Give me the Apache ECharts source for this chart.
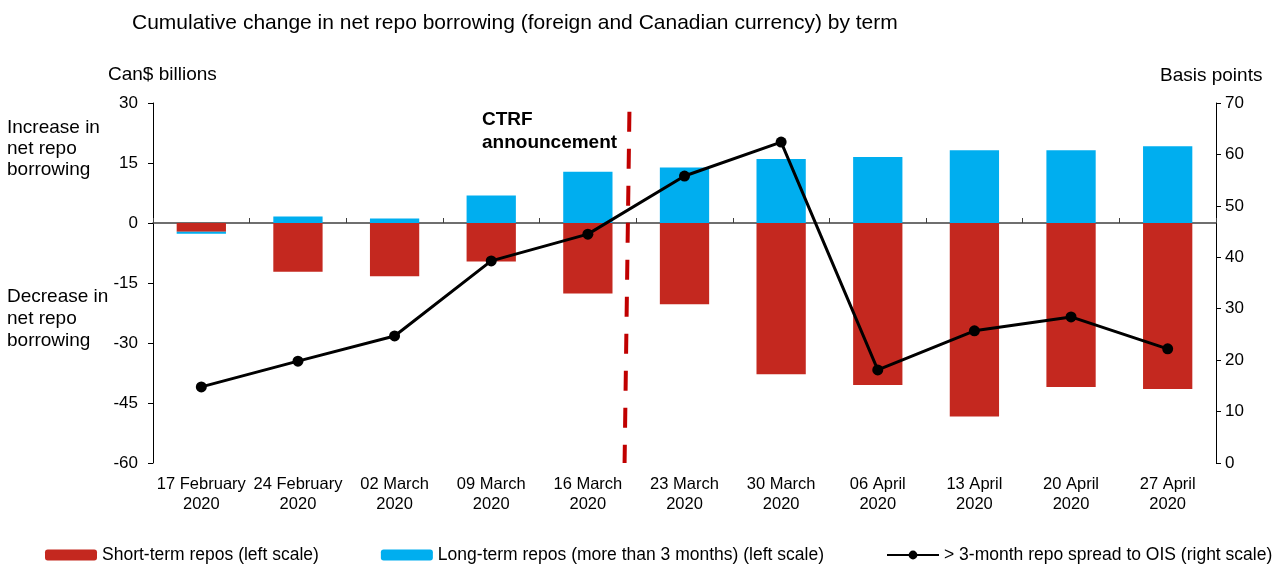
<!DOCTYPE html>
<html>
<head>
<meta charset="utf-8">
<script src="https://cdn.jsdelivr.net/npm/echarts@6/dist/echarts.min.js"></script>
<style>
  html, body { margin: 0; padding: 0; background: #fff; }
  #chart { width: 1280px; height: 565px; }
</style>
</head>
<body>
<div id="chart"></div>
<script>
// weekly dates
const weeks = ['17 February\n2020', '24 February\n2020', '02 March\n2020', '09 March\n2020', '16 March\n2020',
  '23 March\n2020', '30 March\n2020', '06 April\n2020', '13 April\n2020', '20 April\n2020', '27 April\n2020']
// Can$ billions
const shortTerm = [-2.2, -12.2, -13.3, -9.6, -17.6, -20.3, -37.8, -40.5, -48.4, -41.0, -41.5]
const longTerm = [-0.5, 1.6, 1.1, 6.9, 12.8, 13.9, 16.0, 16.5, 18.2, 18.2, 19.2]
// basis points
const spread = [14.8, 19.8, 24.7, 39.3, 44.5, 55.8, 62.4, 18.1, 25.7, 28.4, 22.2]
// CTRF announcement marker (position between weeks, left scale)
const ctrfLine = [[4.93, 27.8], [4.88, -60]]

const font = 'Arial, "Liberation Sans", sans-serif'
const chart = echarts.init(document.getElementById('chart'))

chart.setOption({
  animation: false,
  textStyle: { fontFamily: font, color: '#000' },
  grid: { left: 153, right: 64, top: 103, bottom: 102 },
  title: {
    text: 'Cumulative change in net repo borrowing (foreign and Canadian currency) by term',
    left: 127, top: 8,
    textStyle: { fontFamily: font, fontSize: 21, fontWeight: 'normal', color: '#000' }
  },
  graphic: [
    { type: 'text', left: 108, top: 65, style: { text: 'Can$ billions', font: '19px ' + font, fill: '#000' } },
    { type: 'text', left: 1160, top: 66, style: { text: 'Basis points', font: '19px ' + font, fill: '#000' } },
    { type: 'text', left: 7, top: 117, style: { text: 'Increase in\nnet repo\nborrowing', font: '19px ' + font, lineHeight: 21, fill: '#000' } },
    { type: 'text', left: 7, top: 286, style: { text: 'Decrease in\nnet repo\nborrowing', font: '19px ' + font, lineHeight: 22, fill: '#000' } },
    { type: 'text', left: 482, top: 108, style: { text: 'CTRF\nannouncement', font: 'bold 19px ' + font, lineHeight: 23, fill: '#000' } }
  ],
  legend: {
    top: 541, left: 40,
    itemWidth: 52, itemHeight: 11, itemGap: 62,
    textStyle: { fontFamily: font, fontSize: 17.5, color: '#000' },
    data: ['Short-term repos (left scale)', 'Long-term repos (more than 3 months) (left scale)', '> 3-month repo spread to OIS (right scale)']
  },
  xAxis: [
    {
      type: 'category', data: weeks, position: 'bottom',
      axisLine: { show: false }, axisTick: { show: false },
      axisLabel: { fontSize: 16.5, lineHeight: 20, color: '#000', margin: 11, interval: 0 }
    },
    {
      type: 'category', data: weeks,
      axisLine: { onZero: true, onZeroAxisIndex: 0, lineStyle: { color: '#404040', width: 1.5 } },
      axisTick: { show: true, length: 5, lineStyle: { color: '#404040' } },
      axisLabel: { show: false }
    },
    { type: 'value', min: 0, max: 11, show: false }
  ],
  yAxis: [
    {
      type: 'value', min: -60, max: 30, interval: 15,
      axisLine: { show: true, lineStyle: { color: '#000' } },
      axisTick: { show: true, length: 5, lineStyle: { color: '#000' } },
      axisLabel: { fontSize: 17, color: '#000', margin: 15 },
      splitLine: { show: false }
    },
    {
      type: 'value', min: 0, max: 70, interval: 10, position: 'right',
      axisLine: { show: true, lineStyle: { color: '#000' } },
      axisTick: { show: true, length: 5, lineStyle: { color: '#000' } },
      axisLabel: { fontSize: 17, color: '#000', margin: 9 },
      splitLine: { show: false }
    }
  ],
  series: [
    {
      name: 'Short-term repos (left scale)', type: 'bar', stack: 'repo',
      xAxisIndex: 0, yAxisIndex: 0, barWidth: '51%',
      itemStyle: { color: '#C4281F' }, data: shortTerm
    },
    {
      name: 'Long-term repos (more than 3 months) (left scale)', type: 'bar', stack: 'repo',
      xAxisIndex: 0, yAxisIndex: 0, barWidth: '51%',
      itemStyle: { color: '#00AEEF' }, data: longTerm
    },
    {
      name: '> 3-month repo spread to OIS (right scale)', type: 'line',
      xAxisIndex: 0, yAxisIndex: 1, z: 5,
      symbol: 'circle', symbolSize: 11,
      lineStyle: { color: '#000', width: 3 }, itemStyle: { color: '#000' },
      data: spread
    },
    {
      name: 'ctrf', type: 'line', xAxisIndex: 2, yAxisIndex: 0, z: 4,
      symbol: 'none', silent: true,
      lineStyle: { color: '#C00000', width: 4, type: [20, 17] },
      data: ctrfLine
    }
  ]
})
</script>
</body>
</html>
